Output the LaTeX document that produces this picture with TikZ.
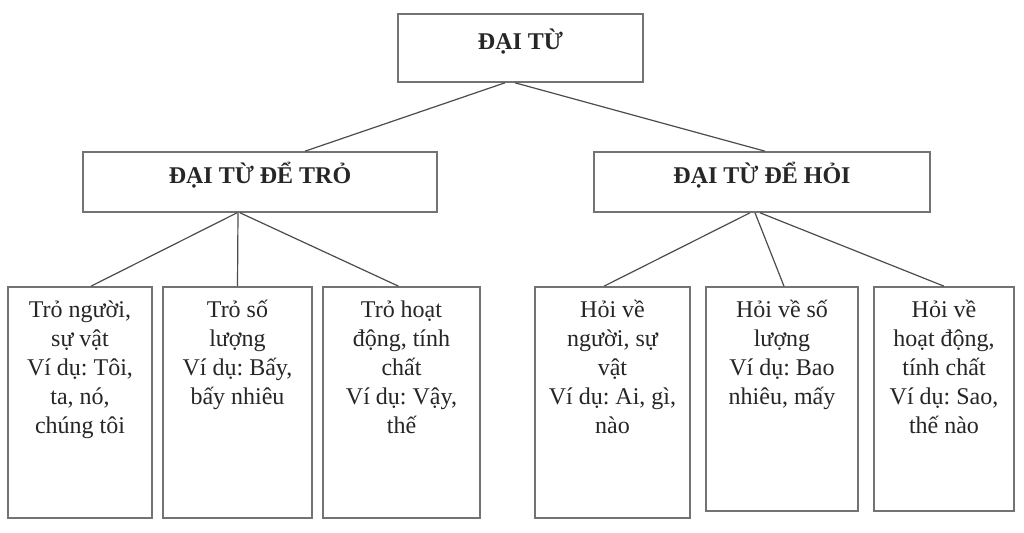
\documentclass[tikz,border=0pt]{standalone}
\usepackage{fontspec}
\setmainfont{Liberation Serif}
\usetikzlibrary{calc}
\frenchspacing
\begin{document}
\begin{tikzpicture}[x=0.5pt,y=-0.5pt,
  box/.style={draw=black!55, line width=0.8pt, rectangle, inner sep=0pt},
  headbox/.style={box, font=\bfseries\fontsize{12}{14}\selectfont, text=black!85, text height=8pt, text depth=6pt},
  leaftext/.style={font=\fontsize{12}{14.5}\selectfont, align=center, anchor=north, inner sep=0pt, text=black!85},
  link/.style={draw=black!70, line width=0.6pt}]
\useasboundingbox[fill=white] (0,0) rectangle (1024,533);

% header boxes
\node[headbox, minimum width=122.5pt, minimum height=34pt] (top) at (520.5,48) {ĐẠI TỪ};
\node[headbox, minimum width=177pt, minimum height=30pt] (m1) at (260,182) {ĐẠI TỪ ĐỂ TRỎ};
\node[headbox, minimum width=168pt, minimum height=30pt] (m2) at (762,182) {ĐẠI TỪ ĐỂ HỎI};

% leaf boxes
\node[box, minimum width=72pt, minimum height=115.5pt] (l1) at (80,402.5) {};
\node[box, minimum width=74.5pt, minimum height=115.5pt] (l2) at (237.5,402.5) {};
\node[box, minimum width=78.5pt, minimum height=115.5pt] (l3) at (401.5,402.5) {};
\node[box, minimum width=77.5pt, minimum height=115.5pt] (l4) at (612.5,402.5) {};
\node[box, minimum width=76pt, minimum height=112pt] (l5) at (782,399) {};
\node[box, minimum width=70pt, minimum height=112pt] (l6) at (944,399) {};

% leaf texts
\node[leaftext] (t1) at ($(l1.north)+(0,14)$) {Trỏ người,\\ sự vật\\ Ví dụ: Tôi,\\ ta, nó,\\ chúng tôi};
\node[leaftext] (t2) at ($(l2.north)+(0,14)$) {Trỏ số\\ lượng\\ Ví dụ: Bấy,\\ bấy nhiêu};
\node[leaftext] (t3) at ($(l3.north)+(0,14)$) {Trỏ hoạt\\ động, tính\\ chất\\ Ví dụ: Vậy,\\ thế};
\node[leaftext] (t4) at ($(l4.north)+(0,14)$) {Hỏi về\\ người, sự\\ vật\\ Ví dụ: Ai, gì,\\ nào};
\node[leaftext] (t5) at ($(l5.north)+(0,14)$) {Hỏi về số\\ lượng\\ Ví dụ: Bao\\ nhiêu, mấy};
\node[leaftext] (t6) at ($(l6.north)+(0,14)$) {Hỏi về\\ hoạt động,\\ tính chất\\ Ví dụ: Sao,\\ thế nào};

% connectors
\draw[link] ($(top.south)+(-15.5,0)$) -- ($(m1.north)+(45,0)$);
\draw[link] ($(top.south)+(-5.5,0)$) -- ($(m2.north)+(3,0)$);
\draw[link] ($(m1.south)+(-23,0)$) -- ($(l1.north)+(11,0)$);
\draw[link] ($(m1.south)+(-22,0)$) -- (l2.north);
\draw[link] ($(m1.south)+(-20,0)$) -- ($(l3.north)+(-3,0)$);
\draw[link] ($(m2.south)+(-12,0)$) -- ($(l4.north)+(-8.5,0)$);
\draw[link] ($(m2.south)+(-7,0)$) -- ($(l5.north)+(2,0)$);
\draw[link] ($(m2.south)+(-2,0)$) -- (l6.north);
\end{tikzpicture}
\end{document}
